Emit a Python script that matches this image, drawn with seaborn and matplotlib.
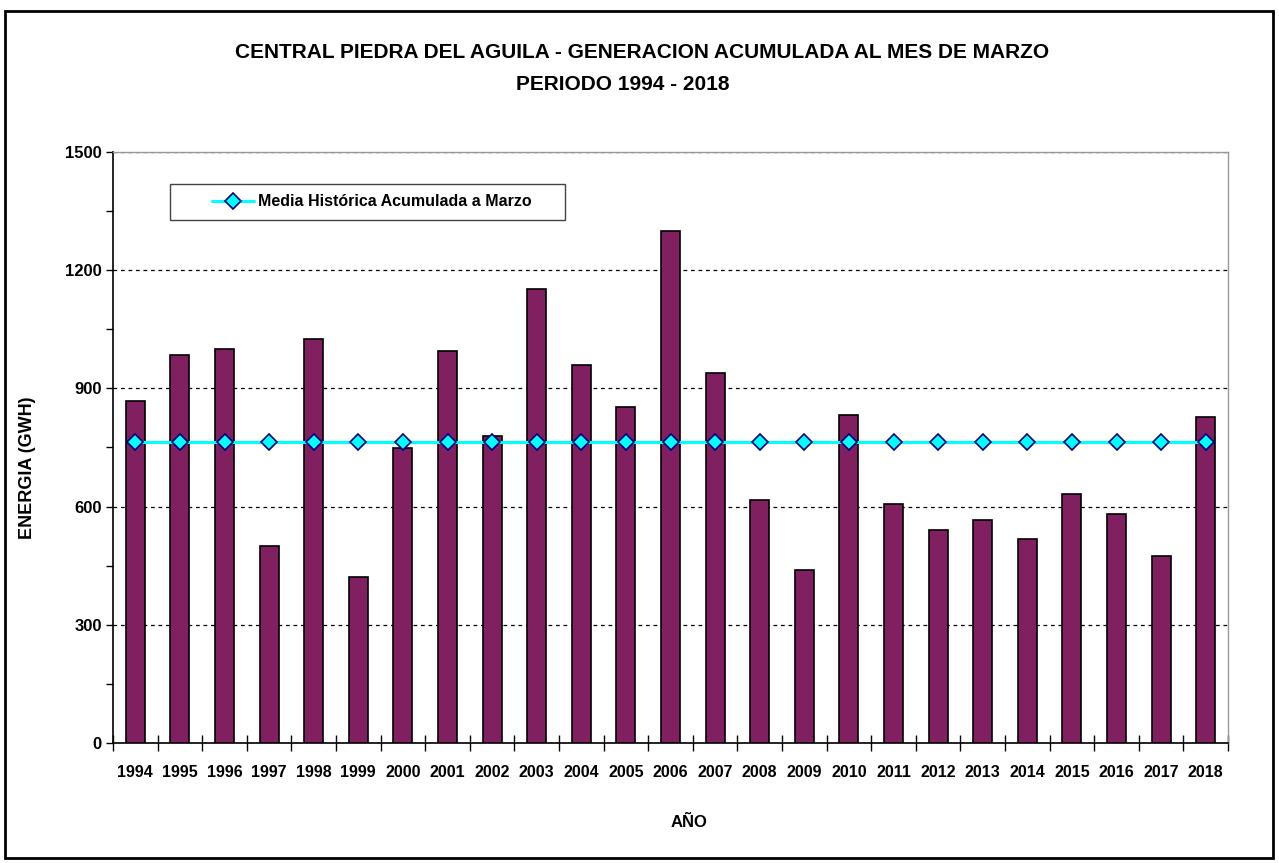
import matplotlib
matplotlib.use("Agg")
import matplotlib.pyplot as plt
import seaborn as sns
import pandas as pd
from matplotlib.patches import Rectangle
from matplotlib.ticker import MultipleLocator
from matplotlib.lines import Line2D

years = ["1994", "1995", "1996", "1997", "1998", "1999", "2000", "2001", "2002",
         "2003", "2004", "2005", "2006", "2007", "2008", "2009", "2010", "2011",
         "2012", "2013", "2014", "2015", "2016", "2017", "2018"]
energia = [869, 985, 999, 500, 1026, 421, 748, 996, 778, 1153, 960, 854, 1299,
           938, 617, 439, 833, 606, 541, 566, 519, 632, 581, 475, 828]
media = [765] * len(years)

title_line1 = "CENTRAL PIEDRA DEL AGUILA - GENERACION ACUMULADA AL MES DE MARZO"
title_line2 = "PERIODO 1994 - 2018"
legend_label = "Media Histórica Acumulada a Marzo"

sns.set_theme(style="white")
plt.rcParams["font.family"] = ["Liberation Sans", "DejaVu Sans"]
plt.rcParams["font.weight"] = "bold"
plt.rcParams["text.color"] = "black"
plt.rcParams["axes.labelcolor"] = "black"
plt.rcParams["xtick.color"] = "black"
plt.rcParams["ytick.color"] = "black"

df = pd.DataFrame({"year": years, "energia": energia, "media": media})

W, H = 1279, 863
L, R, T, B = 113, 1228, 152, 743
fig = plt.figure(figsize=(W / 100, H / 100), dpi=100)
ax = fig.add_axes([L / W, 1 - B / H, (R - L) / W, (B - T) / H])

sns.barplot(data=df, x="year", y="energia", color="#802060", saturation=1,
            width=0.43, edgecolor="black", linewidth=1.2, ax=ax, zorder=3)

sns.pointplot(data=df, x="year", y="media", color="#00FFFF", markers="D",
              linewidth=2.2, markersize=8.5, ax=ax, zorder=4)
for ln in ax.lines:
    ln.set_markeredgecolor("#000080")
    ln.set_markerfacecolor("#00FFFF")
    ln.set_markeredgewidth(1.2)
    ln.set_zorder(4)

ax.set_xlim(-0.5, len(years) - 0.5)
ax.set_ylim(0, 1500)
ax.yaxis.set_major_locator(MultipleLocator(300))
ax.yaxis.set_minor_locator(MultipleLocator(150))
ax.grid(axis="y", which="major", color="black", linestyle=(0, (3, 3)), linewidth=0.9, zorder=1)
ax.set_axisbelow(True)

for s in ["top", "right"]:
    ax.spines[s].set_color("#999999")
    ax.spines[s].set_linewidth(1.0)
for s in ["left", "bottom"]:
    ax.spines[s].set_color("black")
    ax.spines[s].set_linewidth(1.2)

ax.tick_params(axis="y", which="both", direction="out", left=True, length=5,
               width=1, color="black", labelsize=12, pad=3, labelcolor="black")
ax.tick_params(axis="x", which="major", bottom=False, labelsize=11.5, pad=10, labelcolor="black")
ax.set_xticks(range(len(years)))
ax.set_xticklabels(years, fontweight="bold")
ax.set_xticks([i + 0.5 for i in range(-1, len(years))], minor=True)
ax.tick_params(axis="x", which="minor", bottom=True, direction="inout", length=11, width=1, color="black")
for lab in ax.get_yticklabels():
    lab.set_fontweight("bold")

ax.set_xlabel("AÑO", fontsize=12, fontweight="bold", color="black")
ax.xaxis.set_label_coords((689 - L) / (R - L), (B - 822) / (B - T))
ax.xaxis.label.set_va("center")
ax.set_ylabel("ENERGIA (GWH)", fontsize=13, fontweight="bold", color="black")
ax.yaxis.set_label_coords((28 - L) / (R - L), (B - 468) / (B - T))
ax.yaxis.label.set_va("center")

fig.text(642 / W, 1 - 52 / H, title_line1, ha="center", va="center", fontsize=15,
         fontweight="bold", color="black")
fig.text(623 / W, 1 - 84 / H, title_line2, ha="center", va="center", fontsize=15,
         fontweight="bold", color="black")

# legend frame
ax.add_patch(Rectangle(((170 - L) / (R - L), (B - 220) / (B - T)), (565 - 170) / (R - L),
                       (220 - 184) / (B - T), transform=ax.transAxes, facecolor="white",
                       edgecolor="#444444", linewidth=1.0, zorder=5))
handle = Line2D([], [], color="#00FFFF", lw=2.2, marker="D", markersize=8.5,
                markerfacecolor="#00FFFF", markeredgecolor="#000080", markeredgewidth=1.2)
leg = ax.legend([handle], [legend_label], loc="center",
                bbox_to_anchor=((372 - L) / (R - L), (B - 202) / (B - T)),
                frameon=False, fontsize=11.5, handlelength=2.6, borderpad=0.2,
                handletextpad=0.3, labelcolor="black")
for t in leg.get_texts():
    t.set_fontweight("bold")
leg.set_zorder(6)

fig.patches.append(Rectangle((5 / W, 5 / H), (1273 - 5) / W, (855 - 8) / H,
                             transform=fig.transFigure, fill=False, edgecolor="black",
                             linewidth=2.0, zorder=10))

fig.savefig("out.png", dpi=100, facecolor="white")
